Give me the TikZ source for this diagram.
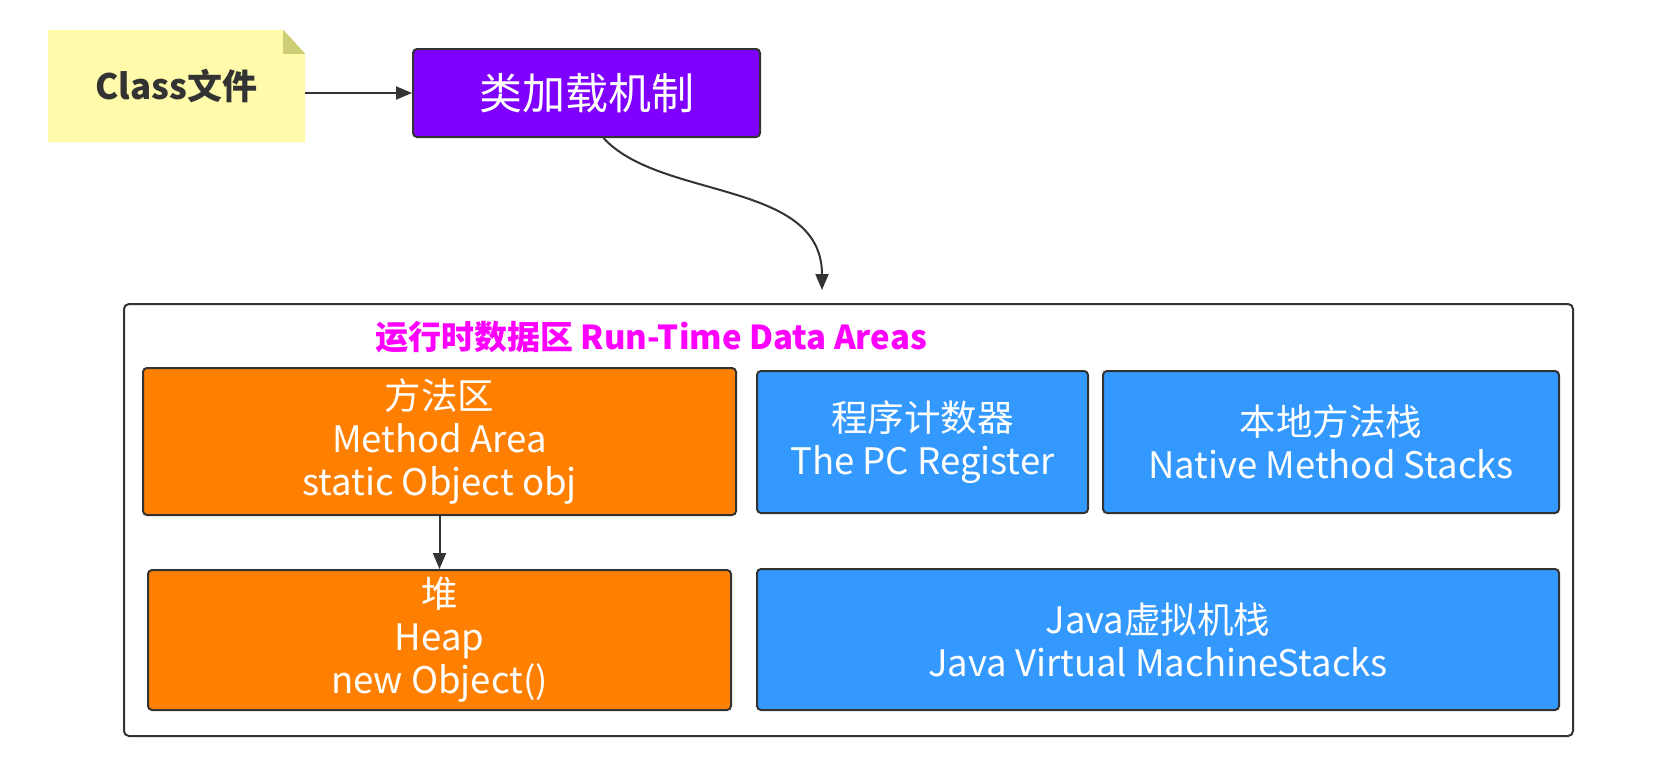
\documentclass[tikz,border=0pt]{standalone}
\usepackage{fontspec}
\setmainfont{Noto Sans CJK SC}
\usetikzlibrary{arrows.meta}
\pgfdeclarelayer{background}
\pgfsetlayers{background,main}
\definecolor{edge}{RGB}{51,51,51}
\definecolor{notefill}{RGB}{255,251,170}
\definecolor{notefold}{RGB}{205,205,120}
\definecolor{violetbox}{RGB}{128,0,255}
\definecolor{orangebox}{RGB}{255,128,0}
\definecolor{bluebox}{RGB}{51,153,255}
\definecolor{titlecol}{RGB}{255,0,255}
\tikzset{
  areabox/.style={draw=edge, line width=2pt, rounded corners=4pt, inner sep=0pt, align=center,
    text=white, font=\fontsize{36.5}{43}\selectfont},
  orangearea/.style={areabox, fill=orangebox},
  bluearea/.style={areabox, fill=bluebox},
  conn/.style={draw=edge, line width=2pt, -{Triangle[length=16pt,width=13pt]}},
}
\begin{document}
\begin{tikzpicture}[x=1pt,y=-1pt]
\useasboundingbox (0,0) rectangle (1678,764);
% note
\node[inner sep=0pt, minimum width=257pt, minimum height=107pt, text=edge,
      font=\bfseries\fontsize{35}{40}\selectfont] (note) at (176.5,86) {Class文件};
\begin{pgfonlayer}{background}
\fill[notefill] ([yshift=-2.5pt]note.south west) -- ([yshift=2.5pt]note.north west) -- ([xshift=-22pt,yshift=2.5pt]note.north east)
  -- ([yshift=-21.5pt]note.north east) -- ([yshift=-2.5pt]note.south east) -- cycle;
\fill[notefold] ([xshift=-22pt,yshift=2.5pt]note.north east) -- ([xshift=-22pt,yshift=-21.5pt]note.north east)
  -- ([yshift=-21.5pt]note.north east) -- cycle;
\end{pgfonlayer}
% class loader
\node[areabox, fill=violetbox, minimum width=347pt, minimum height=88pt,
      font=\fontsize{43}{48}\selectfont] (loader) at (586.5,93) {类加载机制};
\draw[conn] (loader.west -| note.east) -- (loader.west);
% container
\node[draw=edge, line width=2pt, rounded corners=5pt, minimum width=1449pt, minimum height=432pt,
      inner sep=0pt] (rtda) at (848.5,520) {};
\node[anchor=west, text=titlecol, font=\bfseries\fontsize{33}{38}\selectfont, inner sep=0pt]
  (title) at (375,337) {运行时数据区 Run-Time Data Areas};
\coordinate (tip) at (822,290);
\draw[conn] ([xshift=17pt]loader.south) .. controls (660,200) and (822,180) .. (tip);
% areas
\node[orangearea, minimum width=593pt, minimum height=147pt] (method) at (439.5,441.5)
  {方法区\\Method Area\\static Object obj};
\node[orangearea, minimum width=583pt, minimum height=140pt] (heap) at (439.5,640)
  {堆\\Heap\\new Object()};
\node[bluearea, minimum width=331pt, minimum height=142pt] (pc) at (922.5,442)
  {程序计数器\\The PC Register};
\node[bluearea, minimum width=456pt, minimum height=142pt] (native) at (1331,442)
  {本地方法栈\\Native Method Stacks};
\node[bluearea, minimum width=802pt, minimum height=141pt] (jvm) at (1158,639.5)
  {Java虚拟机栈\\Java Virtual MachineStacks};
\draw[conn] (method.south) -- (heap.north);
\end{tikzpicture}
\end{document}
